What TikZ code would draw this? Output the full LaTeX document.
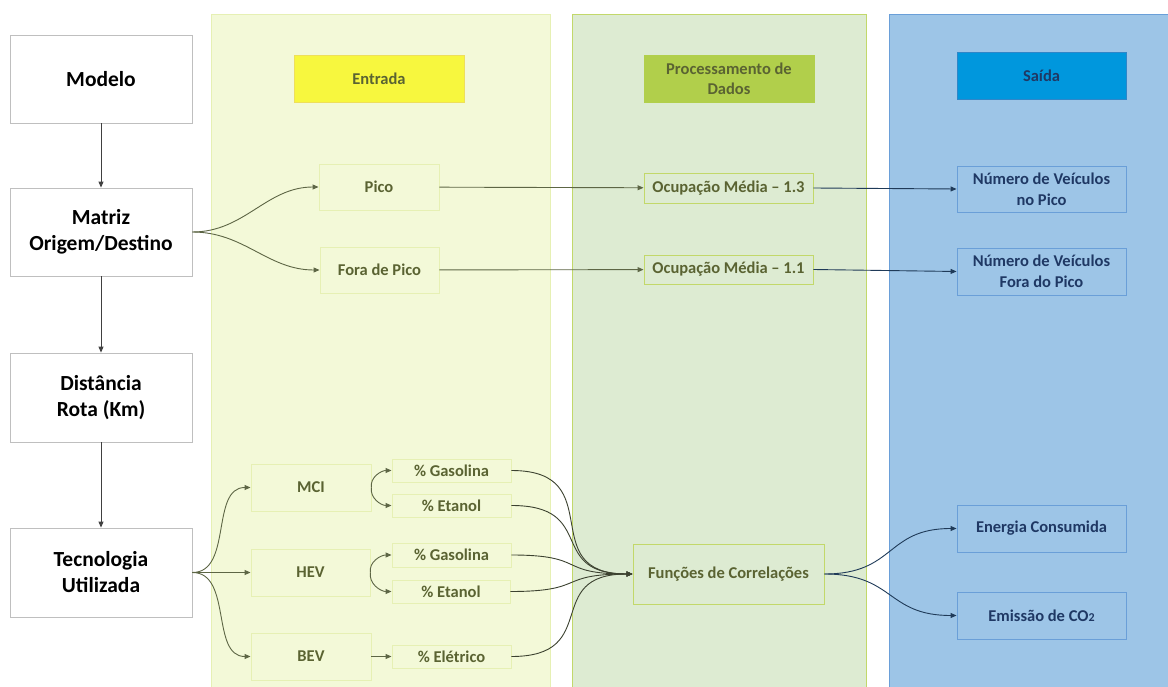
\documentclass[tikz,border=0pt]{standalone}
\usepackage{fontspec}
\setmainfont{Carlito}
\usetikzlibrary{arrows.meta}

\definecolor{colA}{HTML}{F3F9D8}
\definecolor{colAline}{HTML}{E6F0B4}
\definecolor{colB}{HTML}{DDEBD2}
\definecolor{colBline}{HTML}{C2D86A}
\definecolor{colC}{HTML}{9DC5E7}
\definecolor{colCline}{HTML}{6A9FD8}
\definecolor{hdrA}{HTML}{F7F73E}
\definecolor{hdrAline}{HTML}{EEDF5A}
\definecolor{hdrB}{HTML}{B1CF4B}
\definecolor{hdrC}{HTML}{0097DD}
\definecolor{hdrCline}{HTML}{2F86C8}
\definecolor{olive}{HTML}{5A6332}
\definecolor{navy}{HTML}{1F3864}
\definecolor{wireA}{HTML}{5D6645}
\definecolor{wireB}{HTML}{3C4230}
\definecolor{wireC}{HTML}{1F3A58}
\definecolor{boxgray}{HTML}{BFBFBF}

\begin{document}
\begin{tikzpicture}[x=1pt,y=-1pt,
  every node/.style={inner sep=0pt, align=center, font=\bfseries},
  leftbox/.style={draw=boxgray, fill=white, line width=0.8pt, minimum width=182pt,
    font=\fontsize{21.5}{26}\selectfont\bfseries, text=black},
  inbox/.style={draw=colAline, fill=colA, line width=0.9pt,
    font=\fontsize{16.5}{21}\selectfont\bfseries, text=olive},
  procbox/.style={draw=colBline, fill=colB, line width=0.9pt,
    font=\fontsize{16.5}{21}\selectfont\bfseries, text=olive},
  outbox/.style={draw=colCline, fill=colC, line width=0.9pt,
    minimum width=169pt, minimum height=47pt,
    font=\fontsize{16.5}{21}\selectfont\bfseries, text=navy},
  hdr/.style={minimum width=170pt, minimum height=47pt, line width=0.8pt,
    font=\fontsize{16.5}{20}\selectfont\bfseries},
  tip/.style={-{Triangle[length=6pt,width=5pt]}, line width=0.9pt},
  vlink/.style={tip, draw=black!75},
  alink/.style={tip, draw=wireA},
  blink/.style={tip, draw=wireB},
  clink/.style={tip, draw=wireC}
]
\useasboundingbox (0,0) rectangle (1168,687);

% column backgrounds
\draw[fill=colA, draw=colAline, line width=0.8pt] (211,14) rectangle (550,690);
\draw[fill=colB, draw=colBline, line width=0.8pt] (572,14) rectangle (866,690);
\draw[fill=colC, draw=colCline, line width=0.8pt] (889,14) rectangle (1170,690);

% column headers
\node[hdr, fill=hdrA, draw=hdrAline, text=olive] (hA) at (379,78.5) {Entrada};
\node[hdr, fill=hdrB, draw=hdrB, text=olive] (hB) at (729,78.5) {Processamento de\\Dados};
\node[hdr, fill=hdrC, draw=hdrCline, text=navy, minimum width=169pt] (hC) at (1041.5,75.5) {Saída};

% model chain
\node[leftbox, minimum height=88pt] (modelo) at (101,79) {Modelo};
\node[leftbox, minimum height=88pt] (matriz) at (101,232) {Matriz\\Origem/Destino};
\node[leftbox, minimum height=89pt] (dist) at (101,397.5) {Distância\\Rota (Km)};
\node[leftbox, minimum height=89pt] (tec) at (101,572.5) {Tecnologia\\Utilizada};

% inputs
\node[inbox, minimum width=120pt, minimum height=46pt] (pico) at (379,187) {Pico};
\node[inbox, minimum width=119pt, minimum height=46pt] (fora) at (379.5,270) {Fora de Pico};
\node[inbox, minimum width=120pt, minimum height=47pt] (mci) at (311,487.5) {MCI};
\node[inbox, minimum width=119pt, minimum height=47pt] (hev) at (310.5,572.5) {HEV};
\node[inbox, minimum width=120pt, minimum height=47pt] (bev) at (311,656.5) {BEV};
\node[inbox, minimum width=119pt, minimum height=23pt] (gasA) at (451.5,470.5) {\% Gasolina};
\node[inbox, minimum width=119pt, minimum height=23pt] (etA) at (451.5,505.5) {\% Etanol};
\node[inbox, minimum width=119pt, minimum height=24pt] (gasB) at (451.5,555) {\% Gasolina};
\node[inbox, minimum width=118pt, minimum height=23pt] (etB) at (451,591.5) {\% Etanol};
\node[inbox, minimum width=119pt, minimum height=23pt] (ele) at (451.5,656.5) {\% Elétrico};

% processing
\node[procbox, minimum width=169pt, minimum height=30pt] (ocA) at (728.5,188) {Ocupação Média – 1.3};
\node[procbox, minimum width=169pt, minimum height=29pt] (ocB) at (728.5,269.5) {Ocupação Média – 1.1};
\node[procbox, minimum width=191pt, minimum height=60pt] (func) at (728.5,574) {Funções de Correlações};

% outputs
\node[outbox, minimum height=46pt] (numA) at (1041.5,189) {Número de Veículos\\no Pico};
\node[outbox] (numB) at (1041.5,271.5) {Número de Veículos\\Fora do Pico};
\node[outbox] (energia) at (1041.5,528.5) {Energia Consumida};
\node[outbox] (emissao) at (1041.5,615.5) {Emissão de CO{\fontsize{12}{12}\selectfont 2}};

% vertical chain
\draw[vlink] (modelo) -- (matriz);
\draw[vlink] (matriz) -- (dist);
\draw[vlink] (dist) -- (tec);

% trip matrix split
\draw[alink] (matriz.east) to[out=0,in=180] (pico.west);
\draw[alink] (matriz.east) to[out=0,in=180] (fora.west);
\draw[alink] (pico) -- (ocA);
\draw[alink] (fora) -- (ocB);
\draw[clink] (ocA.east) -- (numA.west);
\draw[clink] (ocB.east) -- (numB.west);

% technologies
\draw[alink] (tec.east) to[out=0,in=180] (mci.west);
\draw[alink] (tec.east) -- (hev.west);
\draw[alink] (tec.east) to[out=0,in=180] (bev.west);
\draw[alink] (mci.east) to[out=100,in=180] (gasA.west);
\draw[alink] (mci.east) to[out=-100,in=180] (etA.west);
\draw[alink] (hev.east) to[out=100,in=180] (gasB.west);
\draw[alink] (hev.east) to[out=-100,in=180] (etB.west);
\draw[alink] (bev) -- (ele);

% shares into the correlation functions
\foreach \s in {gasA,etA,gasB,etB,ele}
  \draw[blink] (\s.east) to[out=0,in=180,looseness=1.6] (func.west);

% results
\draw[clink] (func.east) to[out=0,in=180,looseness=1.3] (energia.west);
\draw[clink] (func.east) to[out=0,in=180,looseness=1.3] (emissao.west);
\end{tikzpicture}
\end{document}
